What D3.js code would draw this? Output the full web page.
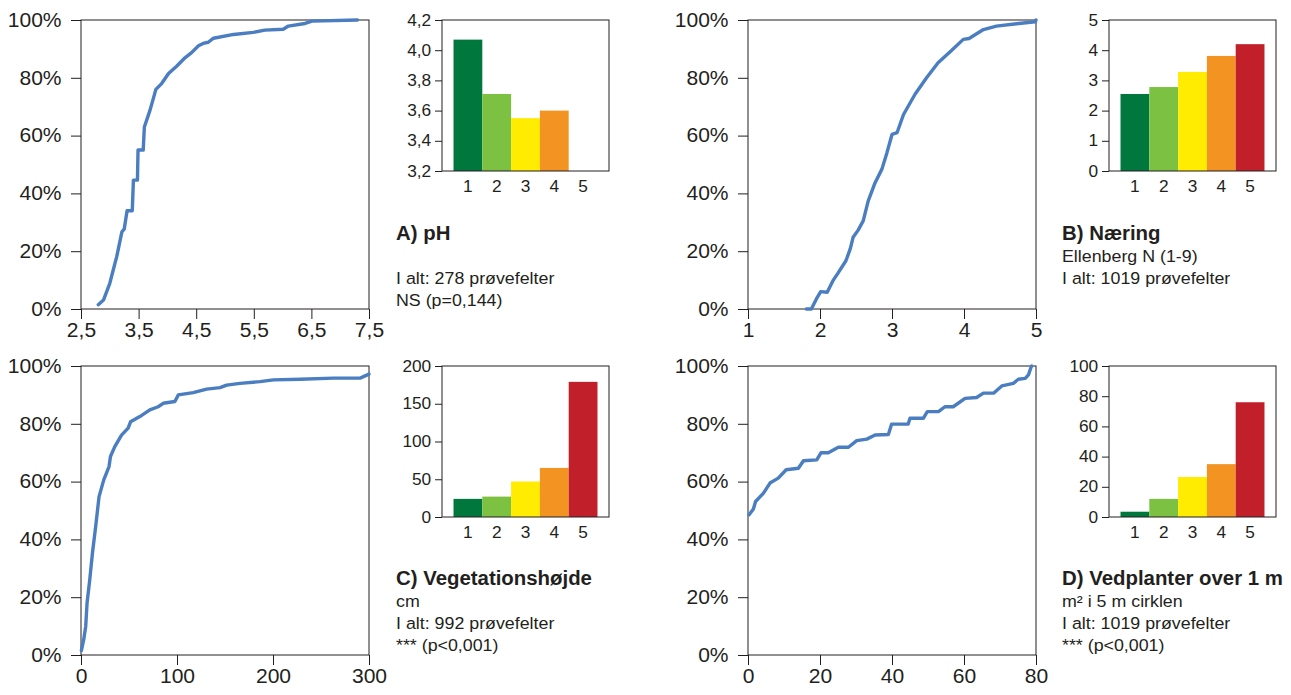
<!DOCTYPE html>
<html>
<head>
<meta charset="utf-8">
<script src="https://cdn.jsdelivr.net/npm/d3@7"></script>
<style>
  html, body { margin: 0; padding: 0; background: #fff; }
  svg { display: block; font-family: "Liberation Sans", Arial, Helvetica, sans-serif; }
</style>
</head>
<body>
<svg id="chart" width="1291" height="695"></svg>
<script>
// ---- Data ---------------------------------------------------------------
// Bar categories (classes 1-5) and their colours
const classes = [1, 2, 3, 4, 5];
const classColors = ["#00773c", "#7dc142", "#ffec00", "#f29322", "#c1202a"];

// Mean values per class
const phMeans = [4.07, 3.71, 3.55, 3.60, null];
const naeringMeans = [2.55, 2.78, 3.28, 3.81, 4.20];
const hoejdeMeans = [24, 27, 47, 65, 179];
const vedMeans = [3.5, 12, 26.5, 35, 76];

// Cumulative distributions: [value, cumulative %]
const phCdf = [
  [2.80, 1.5], [2.89, 3.1], [3.00, 8.9], [3.12, 18.1], [3.21, 26.7], [3.25, 27.6],
  [3.30, 34.0], [3.39, 34.0], [3.41, 44.6], [3.48, 44.6], [3.49, 55.0], [3.58, 55.0],
  [3.60, 63.0], [3.70, 68.9], [3.80, 76.0], [3.90, 78.0], [4.02, 81.5], [4.16, 84.0],
  [4.31, 87.0], [4.42, 88.7], [4.54, 91.1], [4.62, 91.9], [4.71, 92.3], [4.80, 93.7],
  [5.15, 95.0], [5.49, 95.7], [5.69, 96.5], [6.01, 96.8], [6.10, 97.9], [6.39, 98.8],
  [6.51, 99.6], [7.30, 100]
];
const naeringCdf = [
  [1.81, 0], [1.88, 0], [1.95, 3.5], [2.01, 6.0], [2.10, 5.8], [2.18, 9.8],
  [2.25, 12.4], [2.36, 16.7], [2.42, 20.8], [2.46, 24.8], [2.53, 27.3], [2.60, 30.5],
  [2.67, 37.4], [2.76, 43.4], [2.86, 48.4], [2.93, 54.1], [3.00, 60.4], [3.07, 61.0],
  [3.16, 67.3], [3.32, 74.3], [3.48, 80.0], [3.64, 85.2], [3.83, 89.5], [3.99, 93.3],
  [4.07, 93.6], [4.27, 96.7], [4.45, 97.9], [4.73, 98.7], [4.99, 99.4], [5.00, 100]
];
const hoejdeCdf = [
  [0.4, 1.5], [2.8, 5.3], [4.9, 9.9], [6.3, 18.0], [9.1, 26.0], [11.9, 35.2],
  [15.3, 44.5], [18.8, 54.8], [23.7, 60.6], [29.2, 65.2], [30.7, 68.7], [35.2, 72.1],
  [42.2, 76.1], [49.1, 78.5], [51.6, 80.7], [61.3, 82.5], [71.7, 84.8], [80.4, 85.9],
  [85.6, 87.1], [97.8, 87.7], [101.3, 90.0], [116.9, 90.8], [130.9, 92.0], [144.8, 92.5],
  [151.7, 93.4], [165.6, 94.0], [186.5, 94.6], [200.4, 95.2], [228.2, 95.4], [263, 95.8],
  [290.8, 95.8], [300, 97.2]
];
const vedCdf = [
  [0.3, 48.5], [1.5, 50.5], [2.1, 53.1], [4.3, 56.0], [6.1, 59.5], [8.4, 61.2],
  [10.6, 64.1], [14.0, 64.6], [15.4, 67.2], [19.1, 67.5], [20.3, 70.0], [22.3, 70.0],
  [25.1, 71.9], [27.9, 71.9], [30.2, 74.2], [33.0, 74.7], [35.3, 76.1], [39.0, 76.3],
  [39.9, 79.9], [44.5, 79.9], [45.0, 81.9], [48.7, 81.9], [49.8, 84.2], [52.9, 84.2],
  [54.7, 85.9], [57.0, 85.9], [60.3, 88.8], [63.5, 89.1], [65.4, 90.6], [68.2, 90.6],
  [70.5, 93.1], [73.7, 94.0], [75.1, 95.4], [77.0, 95.7], [77.9, 96.9], [78.6, 99.5],
  [78.8, 100]
];

// Tick values
const percentTicks = [0, 20, 40, 60, 80, 100];
const phTicks = [2.5, 3.5, 4.5, 5.5, 6.5, 7.5];
const naeringTicks = [1, 2, 3, 4, 5];
const hoejdeTicks = [0, 100, 200, 300];
const vedTicks = [0, 20, 40, 60, 80];
const phBarTicks = [3.2, 3.4, 3.6, 3.8, 4.0, 4.2];
const naeringBarTicks = [0, 1, 2, 3, 4, 5];
const hoejdeBarTicks = [0, 50, 100, 150, 200];
const vedBarTicks = [0, 20, 40, 60, 80, 100];

// Panel captions
const phTitle = "A) pH";
const phLines = ["", "I alt: 278 prøvefelter", "NS (p=0,144)"];
const naeringTitle = "B) Næring";
const naeringLines = ["Ellenberg N (1-9)", "I alt: 1019 prøvefelter"];
const hoejdeTitle = "C) Vegetationshøjde";
const hoejdeLines = ["cm", "I alt: 992 prøvefelter", "*** (p<0,001)"];
const vedTitle = "D) Vedplanter over 1 m";
const vedLines = ["m² i 5 m cirklen", "I alt: 1019 prøvefelter", "*** (p<0,001)"];

// ---- Drawing ------------------------------------------------------------
const INK = "#231f20";
const LINE = "#4a7ec0";
const SX = 1.08;        // horizontal stretch of tick and caption text
const TITLE_SX = 1.02;  // horizontal stretch of the bold panel titles

const commaFmt = d3.format(".1f");
const decimalComma = d => commaFmt(d).replace(".", ",");

const panels = [
  { cdf: phCdf, xDomain: [2.5, 7.5], xTicks: phTicks, xFmt: decimalComma,
    means: phMeans, barDomain: [3.2, 4.2], barTicks: phBarTicks, barFmt: decimalComma,
    title: phTitle, lines: phLines, col: 0, row: 0 },
  { cdf: naeringCdf, xDomain: [1, 5], xTicks: naeringTicks, xFmt: d3.format("d"),
    means: naeringMeans, barDomain: [0, 5], barTicks: naeringBarTicks, barFmt: d3.format("d"),
    title: naeringTitle, lines: naeringLines, col: 1, row: 0 },
  { cdf: hoejdeCdf, xDomain: [0, 300], xTicks: hoejdeTicks, xFmt: d3.format("d"),
    means: hoejdeMeans, barDomain: [0, 200], barTicks: hoejdeBarTicks, barFmt: d3.format("d"),
    title: hoejdeTitle, lines: hoejdeLines, col: 0, row: 1 },
  { cdf: vedCdf, xDomain: [0, 80], xTicks: vedTicks, xFmt: d3.format("d"),
    means: vedMeans, barDomain: [0, 100], barTicks: vedBarTicks, barFmt: d3.format("d"),
    title: vedTitle, lines: vedLines, col: 1, row: 1 }
];

const colLayout = [
  { cdfX: 81, barX: 442, textX: 396 },
  { cdfX: 748, barX: 1109, textX: 1062 }
];
const rowLayout = [
  { top: 20, titleY: 240 },
  { top: 366, titleY: 585 }
];
const CDF_W = 288, CDF_H = 289;
const BAR_W = 167, BAR_H = 151;
const LINE_GAP = 22;

const svg = d3.select("#chart");

function styleAxis(g, size) {
  g.select(".domain").remove();
  g.selectAll(".tick line").attr("stroke", INK).attr("stroke-width", 1);
  g.selectAll(".tick text")
    .attr("fill", INK)
    .style("font-size", size + "px")
    .attr("transform", `scale(${SX},1)`);
}

panels.forEach(p => {
  const c = colLayout[p.col], r = rowLayout[p.row];

  // Cumulative distribution plot
  const x = d3.scaleLinear().domain(p.xDomain).range([0, CDF_W]);
  const y = d3.scaleLinear().domain([0, 100]).range([CDF_H, 0]);
  const g = svg.append("g").attr("transform", `translate(${c.cdfX},${r.top})`);

  g.append("g")
    .call(d3.axisLeft(y).tickValues(percentTicks).tickFormat(d => d + "%")
      .tickSize(10).tickPadding(8))
    .call(ax => styleAxis(ax, 19.5));
  g.append("g").attr("transform", `translate(0,${CDF_H})`)
    .call(d3.axisBottom(x).tickValues(p.xTicks).tickFormat(p.xFmt)
      .tickSize(10).tickPadding(4))
    .call(ax => styleAxis(ax, 19.5));

  g.append("rect").attr("width", CDF_W).attr("height", CDF_H)
    .attr("fill", "none").attr("stroke", INK).attr("stroke-width", 1);

  g.append("path").datum(p.cdf)
    .attr("fill", "none").attr("stroke", LINE).attr("stroke-width", 3.4)
    .attr("stroke-linejoin", "round").attr("stroke-linecap", "round")
    .attr("d", d3.line().x(d => x(d[0])).y(d => y(d[1])));

  // Class means bar chart
  const bx = d3.scaleBand().domain(classes).range([0, BAR_W]).paddingInner(0).paddingOuter(0.4);
  const by = d3.scaleLinear().domain(p.barDomain).range([BAR_H, 0]);
  const bg = svg.append("g").attr("transform", `translate(${c.barX},${r.top})`);

  bg.selectAll("rect.bar")
    .data(classes.map((k, i) => ({ k, v: p.means[i], color: classColors[i] })).filter(d => d.v != null))
    .join("rect").attr("class", "bar")
    .attr("x", d => bx(d.k)).attr("width", bx.bandwidth())
    .attr("y", d => by(d.v)).attr("height", d => BAR_H - by(d.v))
    .attr("fill", d => d.color);

  bg.append("g")
    .call(d3.axisLeft(by).tickValues(p.barTicks).tickFormat(p.barFmt)
      .tickSize(7).tickPadding(3))
    .call(ax => styleAxis(ax, 16));
  bg.append("g").attr("transform", `translate(0,${BAR_H})`)
    .call(d3.axisBottom(bx).tickSize(0).tickPadding(10))
    .call(ax => styleAxis(ax, 16));

  bg.append("rect").attr("width", BAR_W).attr("height", BAR_H)
    .attr("fill", "none").attr("stroke", INK).attr("stroke-width", 1);

  // Caption
  const tg = svg.append("g").attr("transform", `translate(${c.textX},${r.titleY})`);
  tg.append("text").text(p.title)
    .attr("transform", `scale(${TITLE_SX},1)`)
    .attr("fill", INK).style("font-size", "20px").style("font-weight", "bold");
  p.lines.forEach((line, i) => {
    if (!line) return;
    tg.append("text").attr("transform", `translate(0,${(i + 1) * LINE_GAP}) scale(${SX},1)`)
      .text(line)
      .attr("fill", INK).style("font-size", "16.5px");
  });
});
</script>
</body>
</html>
